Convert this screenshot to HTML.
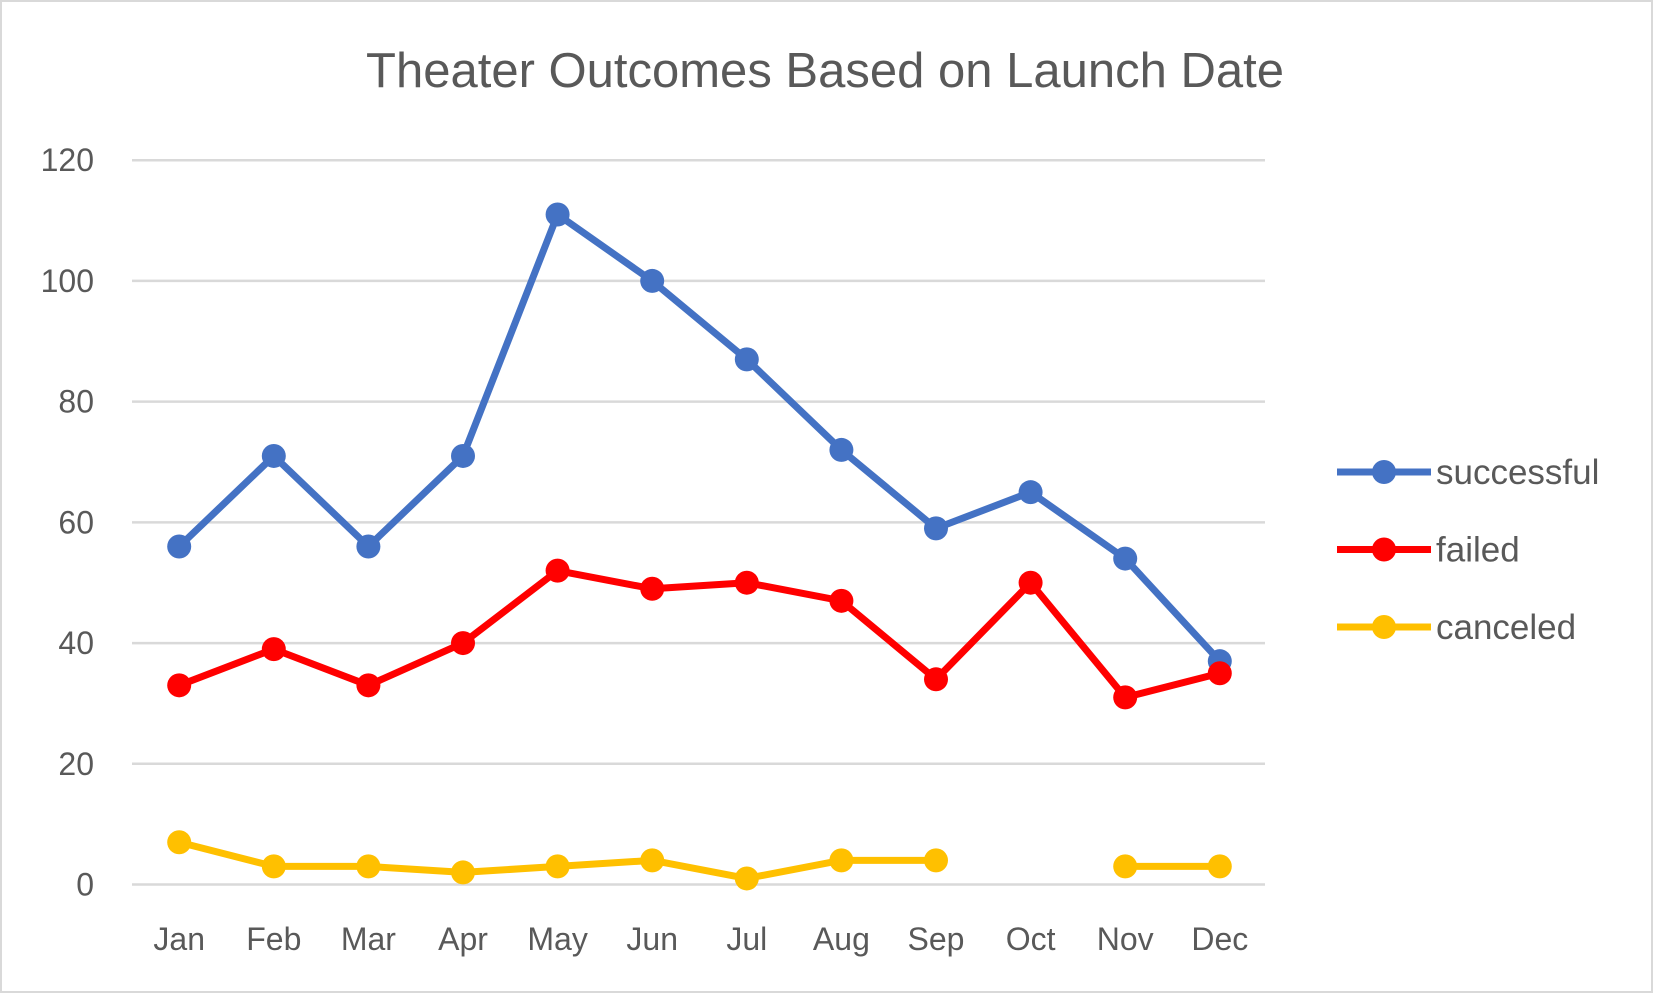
<!DOCTYPE html>
<html><head><meta charset="utf-8"><style>
html,body{margin:0;padding:0;background:#fff}
svg{display:block}
text{font-family:"Liberation Sans",sans-serif;fill:#595959}
</style></head><body>
<svg id="chart" width="1653" height="993">
<rect x="1" y="1" width="1651" height="991" fill="#fff" stroke="#d9d9d9" stroke-width="2"/>
<text x="825" y="87" font-size="49" text-anchor="middle">Theater Outcomes Based on Launch Date</text>
<g id="grid"></g><g id="series"></g><g id="legend"></g>
</svg>
<script>
const categories=["Jan","Feb","Mar","Apr","May","Jun","Jul","Aug","Sep","Oct","Nov","Dec"];
const successful=[56,71,56,71,111,100,87,72,59,65,54,37];
const failed=[33,39,33,40,52,49,50,47,34,50,31,35];
const canceled=[7,3,3,2,3,4,1,4,4,null,3,3];
const yTicks=[0,20,40,60,80,100,120];
const seriesNames=["successful","failed","canceled"];
const NS="http://www.w3.org/2000/svg";
const x=i=>179.2+i*94.6;
const y=v=>884.5-v*(884.5-160.2)/120;
function mk(t,a,p){const e=document.createElementNS(NS,t);for(const k in a)e.setAttribute(k,a[k]);p.appendChild(e);return e;}
const grid=document.getElementById('grid');
yTicks.forEach(v=>{
 const l=mk('line',{x1:132,x2:1265,y1:y(v),y2:y(v),stroke:'#d9d9d9','stroke-width':2.5},grid);
 
 
 const t=mk('text',{x:94,y:y(v)+11,'font-size':32,'text-anchor':'end'},grid);t.textContent=v;
 
 
});
categories.forEach((c,i)=>{
 const t=mk('text',{x:x(i),y:950,'font-size':32,'text-anchor':'middle'},grid);t.textContent=c;
 
 
});
const colors=["#4472c4","#ff0000","#ffc000"];
const sg=document.getElementById('series');
[successful,failed,canceled].forEach((d,s)=>{
 const g=mk('g',{},sg);
 
 
 let seg=[];const segs=[];
 d.forEach((v,i)=>{if(v==null){if(seg.length)segs.push(seg);seg=[];}else seg.push([x(i),y(v)]);});
 if(seg.length)segs.push(seg);
 segs.forEach(sp=>{
  const p=mk('polyline',{points:sp.map(q=>q.join(',')).join(' '),fill:'none',stroke:colors[s],'stroke-width':7,'stroke-linejoin':'round'},g);
  
  
 });
 d.forEach((v,i)=>{if(v==null)return;
  const c=mk('circle',{cx:x(i),cy:y(v),r:12,fill:colors[s]},g);
  
  
 });
});
const lg=document.getElementById('legend');
seriesNames.forEach((n,s)=>{
 const yy=472+s*77.5;
 const g=mk('g',{},lg);
 
 
 mk('line',{x1:1337,x2:1431,y1:yy,y2:yy,stroke:colors[s],'stroke-width':7},g);
 mk('circle',{cx:1384,cy:yy,r:12,fill:colors[s]},g);
 const t=mk('text',{x:1436,y:yy+12,'font-size':35},g);t.textContent=n;
});
</script>
</body></html>
